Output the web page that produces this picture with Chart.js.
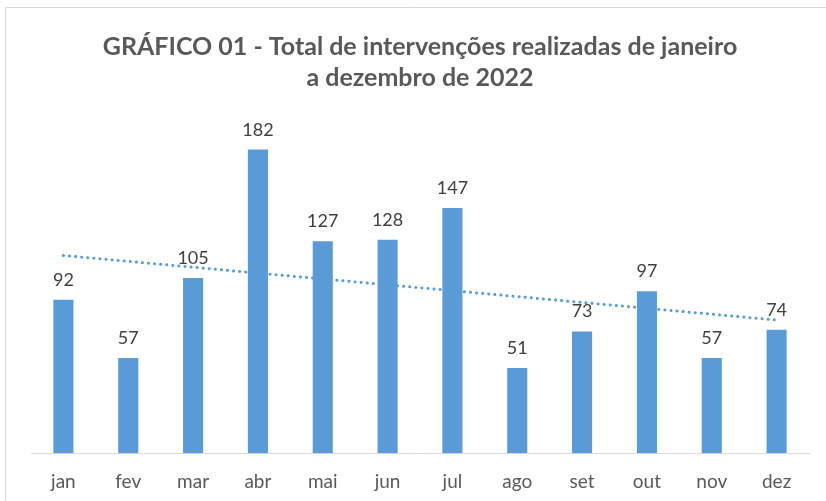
<!DOCTYPE html>
<html>
<head>
<meta charset="utf-8">
<script src="https://cdn.jsdelivr.net/npm/chart.js@4/dist/chart.umd.min.js"></script>
<style>
  html, body { margin: 0; padding: 0; background: #ffffff; }
  #wrap { position: relative; width: 826px; height: 501px; }
</style>
</head>
<body>
<div id="wrap"><canvas id="c" width="826" height="501"></canvas></div>
<script>
const categories = ['jan', 'fev', 'mar', 'abr', 'mai', 'jun', 'jul', 'ago', 'set', 'out', 'nov', 'dez'];
const interventions = [92, 57, 105, 182, 127, 128, 147, 51, 73, 97, 57, 74];
// linear trendline endpoints (jan and dez)
const trendStart = 118.5;
const trendEnd = 79.8;
const trendValues = [trendStart, null, null, null, null, null, null, null, null, null, null, trendEnd];
const titleLines = ['GRÁFICO 01 - Total de intervenções realizadas de janeiro', 'a dezembro de 2022'];

const FONT = 'Lato, "Open Sans", sans-serif';
const BLUE = '#5B9BD5';

const frame = {
  id: 'frame',
  beforeDraw(chart) {
    const ctx = chart.ctx;
    ctx.save();
    ctx.fillStyle = '#ffffff';
    ctx.fillRect(0, 0, chart.width, chart.height);
    ctx.strokeStyle = '#d9d9d9';
    ctx.lineWidth = 1;
    ctx.beginPath();
    ctx.moveTo(5.5, 501);
    ctx.lineTo(5.5, 7.5);
    ctx.lineTo(826, 7.5);
    ctx.stroke();
    ctx.restore();
  }
};

const barLabels = {
  id: 'barLabels',
  afterDatasetsDraw(chart) {
    const ctx = chart.ctx;
    const meta = chart.getDatasetMeta(1);
    ctx.save();
    ctx.font = '18px ' + FONT;
    ctx.fillStyle = '#404040';
    ctx.textAlign = 'center';
    ctx.textBaseline = 'alphabetic';
    meta.data.forEach((bar, i) => {
      ctx.fillText(String(interventions[i]), bar.x, bar.y - 14);
    });
    ctx.restore();
  }
};

new Chart(document.getElementById('c'), {
  data: {
    labels: categories,
    datasets: [
      {
        type: 'line',
        data: trendValues,
        spanGaps: true,
        borderColor: BLUE,
        borderWidth: 3,
        borderDash: [0.1, 6],
        borderCapStyle: 'round',
        pointRadius: 0,
        fill: false,
        order: 0
      },
      {
        type: 'bar',
        data: interventions,
        backgroundColor: BLUE,
        barPercentage: 0.31,
        categoryPercentage: 1.0,
        order: 1
      }
    ]
  },
  options: {
    responsive: false,
    animation: false,
    devicePixelRatio: 1,
    layout: { padding: { left: 31, right: 17, top: 0, bottom: -9 } },
    plugins: {
      legend: { display: false },
      tooltip: { enabled: false },
      title: {
        display: true,
        text: titleLines,
        color: '#595959',
        font: { family: FONT, size: 25, weight: 'bold', lineHeight: 1.25 },
        padding: { top: 31, bottom: 26 }
      }
    },
    scales: {
      x: {
        grid: { display: false, drawTicks: false },
        border: { display: true, color: '#d9d9d9', width: 1 },
        ticks: { color: '#595959', font: { family: FONT, size: 19 }, padding: 17 }
      },
      y: {
        display: false,
        min: 0,
        max: 200
      }
    }
  },
  plugins: [frame, barLabels]
});
</script>
</body>
</html>
